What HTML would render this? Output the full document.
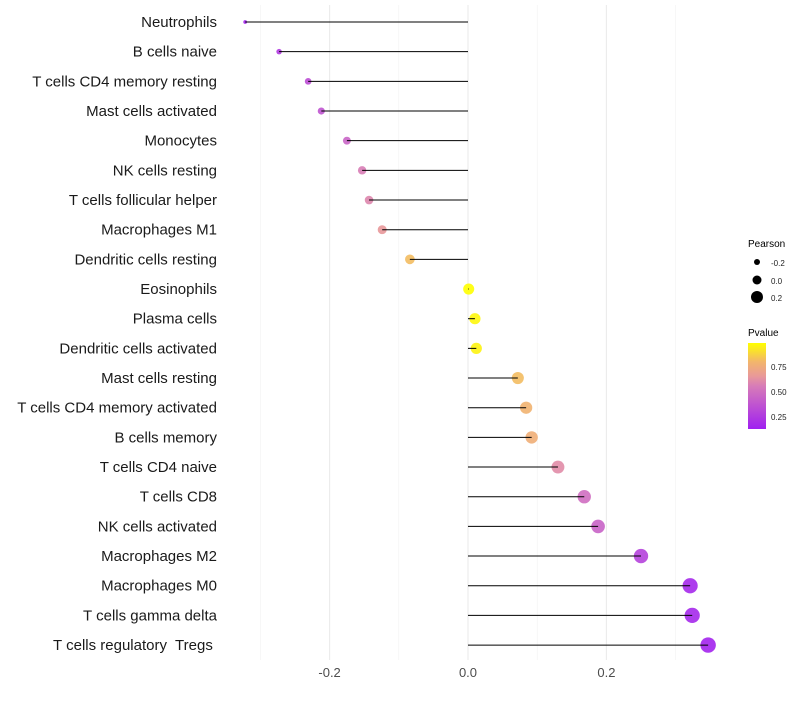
<!DOCTYPE html>
<html><head><meta charset="utf-8"><style>
body{margin:0;background:#fff;font-family:"Liberation Sans",sans-serif}
svg text{font-family:"Liberation Sans",sans-serif}
</style></head><body>
<svg id="c" width="800" height="700">
<defs><linearGradient id="pg" x1="0" y1="1" x2="0" y2="0">
<stop offset="0" stop-color="#A020F0"/><stop offset="0.5" stop-color="#D77CB8"/><stop offset="0.62" stop-color="#E99A98"/><stop offset="0.78" stop-color="#F2B56C"/><stop offset="1" stop-color="#FFFF00"/></linearGradient></defs>
<g id="grid"></g>
<g id="dots"></g>
<g id="segs"></g>
<g id="labels"></g>
<g id="ticks"></g>
<g>
<text x="748" y="247" font-size="10" fill="#000">Pearson</text>
<circle cx="757" cy="262" r="3" fill="#000"/><text x="771" y="266" font-size="8" fill="#222">-0.2</text>
<circle cx="757" cy="280" r="4.5" fill="#000"/><text x="771" y="284" font-size="8" fill="#222">0.0</text>
<circle cx="757" cy="297" r="6" fill="#000"/><text x="771" y="301" font-size="8" fill="#222">0.2</text>
</g>
<g>
<text x="748" y="336" font-size="10" fill="#000">Pvalue</text>
<rect x="748" y="343" width="18" height="86" fill="url(#pg)"/>
<text x="771" y="370" font-size="8" fill="#222">0.75</text>
<text x="771" y="395" font-size="8" fill="#222">0.50</text>
<text x="771" y="420" font-size="8" fill="#222">0.25</text>
</g>
</svg>
<script>
const cats=["Neutrophils","B cells naive","T cells CD4 memory resting","Mast cells activated","Monocytes","NK cells resting","T cells follicular helper","Macrophages M1","Dendritic cells resting","Eosinophils","Plasma cells","Dendritic cells activated","Mast cells resting","T cells CD4 memory activated","B cells memory","T cells CD4 naive","T cells CD8","NK cells activated","Macrophages M2","Macrophages M0","T cells gamma delta","T cells regulatory\u00a0 Tregs\u00a0"];
const pearson=[-0.322,-0.273,-0.231,-0.212,-0.175,-0.153,-0.143,-0.124,-0.084,0.001,0.010,0.012,0.072,0.084,0.092,0.130,0.168,0.188,0.250,0.321,0.324,0.347];
const pvalue=[0.16,0.26,0.35,0.38,0.46,0.57,0.6,0.66,0.82,0.99,0.97,0.96,0.82,0.79,0.77,0.62,0.5,0.45,0.3,0.18,0.18,0.16];
const ticks=[-0.2,0,0.2];
const minor=[-0.3,-0.1,0.1,0.3];
const NS="http://www.w3.org/2000/svg";
const x=v=>468+v*692;
const y=i=>22+i*29.67;
const r=v=>Math.sqrt(3.5+84*(v+0.322));
const stops=[[0,[160,32,240]],[0.5,[215,124,184]],[0.62,[233,154,152]],[0.78,[242,181,108]],[1,[255,255,0]]];
function col(p){let t=Math.max(0,Math.min(1,(p-0.14)/(0.99-0.14)));
for(let k=1;k<stops.length;k++){if(t<=stops[k][0]){const a=stops[k-1],b=stops[k],f=(t-a[0])/(b[0]-a[0]);
return "rgb("+a[1].map((c,j)=>Math.round(c+(b[1][j]-c)*f)).join(",")+")";}}return "rgb(255,255,0)";}
function mk(t,a,p){const e=document.createElementNS(NS,t);for(const k in a)e.setAttribute(k,a[k]);p.appendChild(e);return e;}
const G=document.getElementById("grid"),D=document.getElementById("dots"),S=document.getElementById("segs"),L=document.getElementById("labels"),T=document.getElementById("ticks");
minor.forEach(v=>{const e=mk("line",{x1:x(v),x2:x(v),y1:5,y2:660,stroke:"#f2f2f2","stroke-width":0.6},G);

});
ticks.forEach(v=>{const e=mk("line",{x1:x(v),x2:x(v),y1:5,y2:660,stroke:"#ebebeb","stroke-width":1.1},G);


const t=mk("text",{x:x(v),y:677,"font-size":13,fill:"#4d4d4d","text-anchor":"middle"},T);t.textContent=v.toFixed(1);

});
cats.forEach((c,i)=>{const v=pearson[i];
const d=mk("circle",{cx:x(v),cy:y(i),r:r(v),fill:col(pvalue[i]),"fill-opacity":0.9},D);


const s=mk("line",{x1:x(0),x2:x(v),y1:y(i),y2:y(i),stroke:"#000","stroke-width":1},S);


const t=mk("text",{x:217,y:y(i)+5,"font-size":15,fill:"#1a1a1a","text-anchor":"end"},L);t.textContent=c;

});
</script>
</body></html>
